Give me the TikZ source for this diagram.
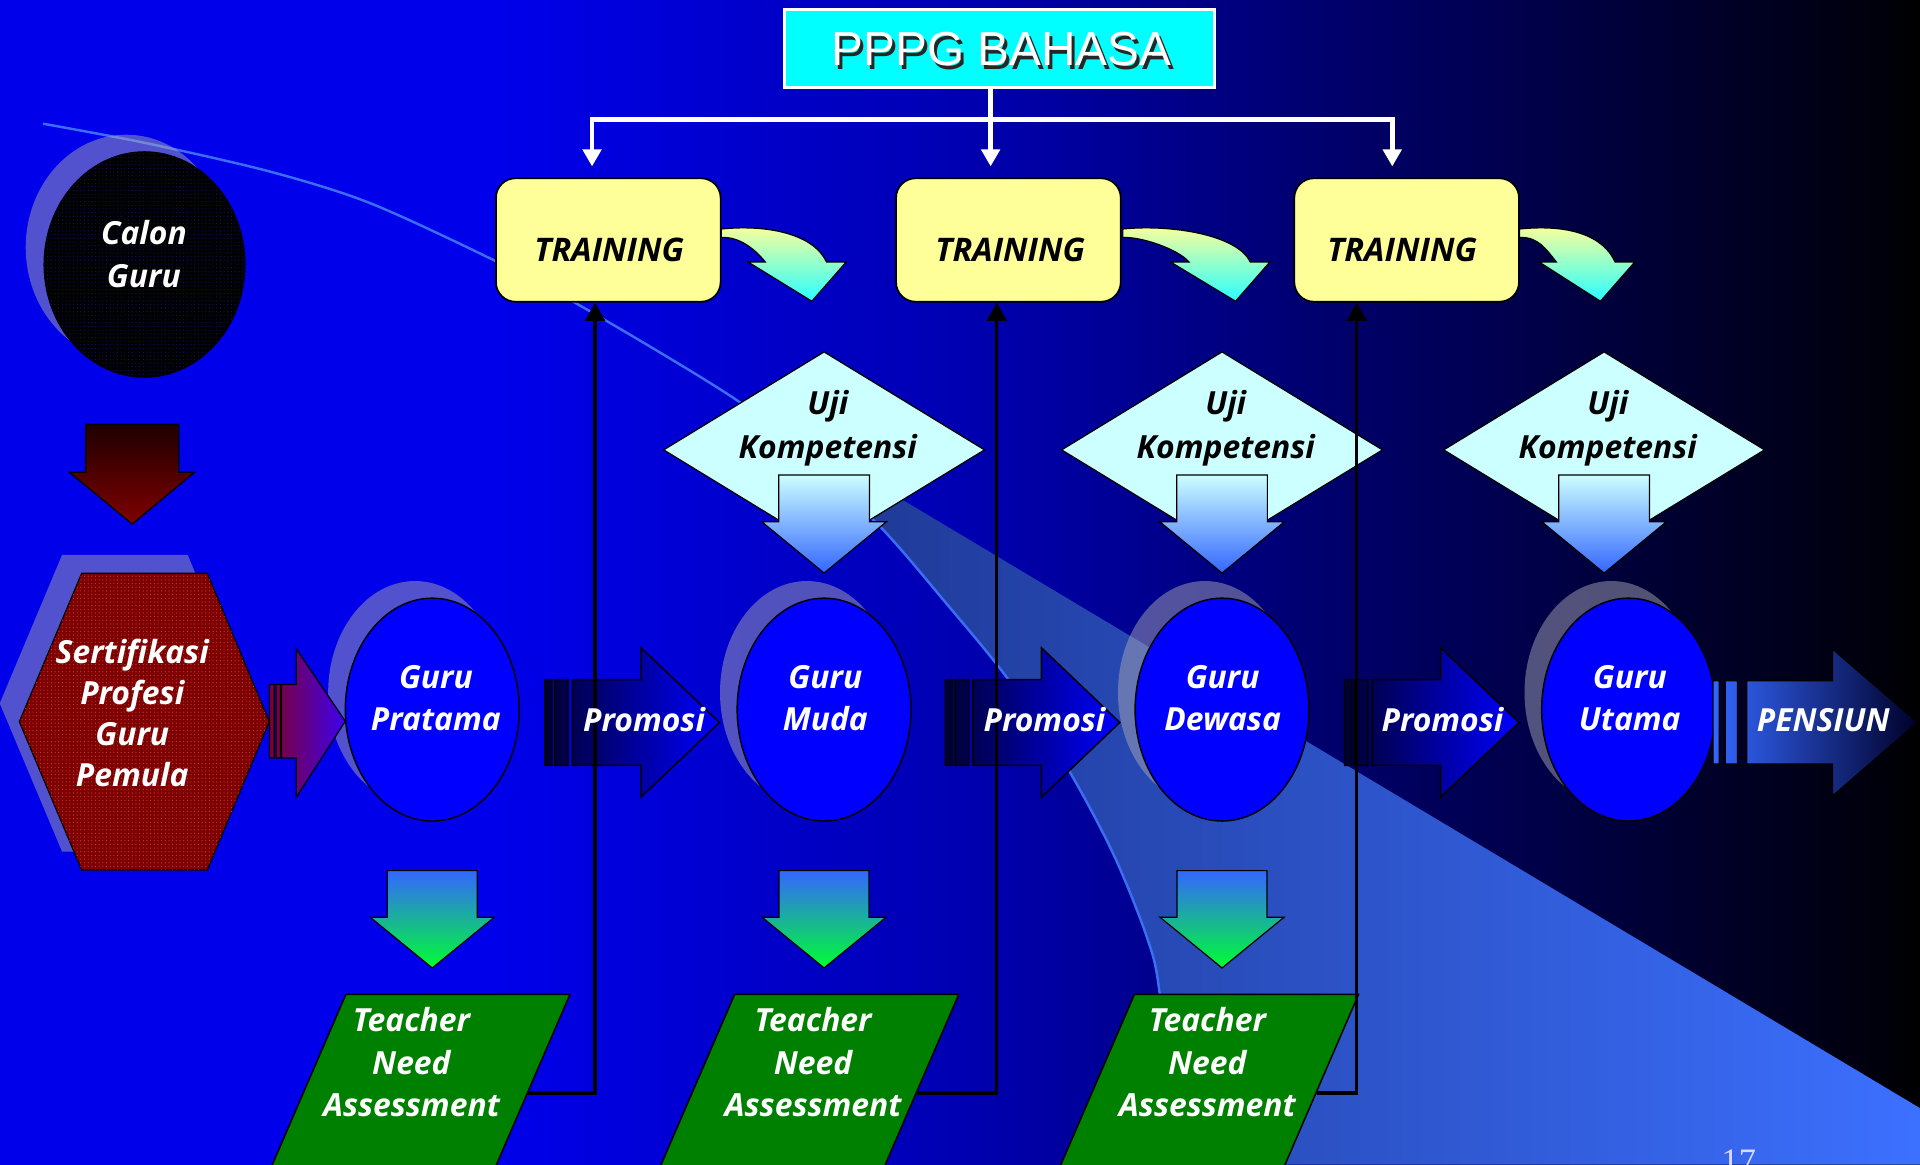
\documentclass[tikz,border=0pt]{standalone}
\usepackage{fontspec}
\setmainfont{Open Sans}
\newfontfamily\arialf{Liberation Sans}
\newfontfamily\timesf{Liberation Serif}
\usetikzlibrary{shapes.geometric,arrows.meta,calc,patterns}
\definecolor{bgA}{RGB}{0,0,235}
\definecolor{bgB}{RGB}{0,0,178}
\definecolor{bgC}{RGB}{0,0,105}
\definecolor{bgD}{RGB}{0,0,52}
\definecolor{bgE}{RGB}{0,0,10}
\definecolor{wedgeA}{RGB}{28,52,140}
\definecolor{wedgeB}{RGB}{60,112,255}
\definecolor{curveline}{RGB}{60,110,245}
\definecolor{trainfill}{RGB}{255,255,153}
\definecolor{ujifill}{RGB}{204,255,255}
\definecolor{gurublue}{RGB}{0,0,255}
\definecolor{tnagreen}{RGB}{0,128,0}
\definecolor{hexred}{RGB}{128,0,0}
\definecolor{hexdot}{RGB}{175,70,70}
\definecolor{caldot}{RGB}{20,20,110}
\definecolor{shadowgray}{RGB}{165,165,180}
\definecolor{cyanbox}{RGB}{0,255,255}
\definecolor{arrowblue}{RGB}{51,102,255}
\definecolor{arrowgreen}{RGB}{0,255,51}
\definecolor{arrowteal}{RGB}{38,200,200}
\definecolor{promoL}{RGB}{0,0,50}
\definecolor{promoR}{RGB}{0,0,255}
\definecolor{pensL}{RGB}{51,102,255}
\definecolor{pensR}{RGB}{0,0,40}
\definecolor{purpL}{RGB}{128,0,48}
\definecolor{purpR}{RGB}{60,0,240}
\definecolor{redtop}{RGB}{30,0,0}
\definecolor{redbot}{RGB}{128,0,0}
\definecolor{curvtop}{RGB}{255,255,153}
\definecolor{curvbot}{RGB}{40,255,255}

\newcommand\mycurvearrow[6]{%
  \path[draw=black, line width=1pt, top color=curvtop, bottom color=curvbot]
    (#1,187) .. controls (#1+40,183) and (#4-10,192) .. (#4,214)
    -- (#5,214) -- (#6,246) -- (#2,214) -- (#3,214)
    .. controls (#3-8,204) and (#1+15,193) .. (#1,194) -- cycle;}
\newcommand\drawUji[1]{%
  \path[draw=black, line width=1pt, fill=ujifill]
    (#1-131,367.4) -- (#1,287.4) -- (#1+131,367.4) -- (#1,447.4) -- cycle;
  \path[draw=black, line width=1pt, top color=ujifill, bottom color=arrowblue]
    (#1-37,388) -- (#1+37,388) -- (#1+37,426) -- (#1+51,426) -- (#1,468)
    -- (#1-51,426) -- (#1-37,426) -- cycle;}
\newcommand\drawGreenDown[1]{%
  \path[draw=black, line width=1pt, top color=arrowblue, middle color=arrowteal, bottom color=arrowgreen]
    (#1-36.75,711) -- (#1+36.75,711) -- (#1+36.75,749) -- (#1+50.75,749)
    -- (#1,790.5) -- (#1-50.75,749) -- (#1-36.75,749) -- cycle;}
\newcommand\drawPromo[1]{%
  \path[draw=black, line width=1.2pt, left color=promoL, right color=promoR]
    (#1,555) rectangle (#1+6,625) (#1+8,555) rectangle (#1+19,625)
    (#1+22.5,555) -- (#1+78.5,555) -- (#1+78.5,529) -- (#1+142.5,590)
    -- (#1+78.5,651) -- (#1+78.5,625) -- (#1+22.5,625) -- cycle;}
\newcommand\drawTNA[1]{%
  \path[draw=black, line width=1.2pt, fill=tnagreen]
    (#1,812) -- (#1+183,812) -- (#1+101.8,1000) -- (#1-81.2,1000) -- cycle;}

\begin{document}
\begin{tikzpicture}[x=1pt,y=-1pt,
  lbl/.style={font=\fontsize{26}{34.5}\selectfont\bfseries\itshape, text=white, align=center, inner sep=0pt},
  blk/.style={lbl, text=black},
  train/.style={draw=black, line width=1.4pt, fill=trainfill, rounded corners=16pt,
    minimum width=183.5pt, minimum height=100.8pt, inner sep=0pt},
  guru/.style={ellipse, draw=black, line width=1.2pt, fill=gurublue,
    minimum width=142pt, minimum height=182pt, inner sep=0pt},
  shad/.style={fill=shadowgray, opacity=.5},
  wline/.style={draw=white, line width=4pt},
  wtip/.style={-{Triangle[width=15pt,length=14pt]}},
  bline/.style={draw=black, line width=2.7pt},
  btip/.style={-{Triangle[width=16pt,length=15pt]}},
]
\clip (0,0) rectangle (1568,950.6);
\useasboundingbox (0,0) rectangle (1568,950.6);

% background
\fill[bgA] (0,0) rectangle (401,951);
\shade[left color=bgA, right color=bgB] (400,0) rectangle (785,951);
\shade[left color=bgB, right color=bgC] (784,0) rectangle (1101,951);
\shade[left color=bgC, right color=bgD] (1100,0) rectangle (1351,951);
\shade[left color=bgD, right color=bgE] (1350,0) rectangle (1541,951);
\shade[left color=bgE, right color=black] (1540,0) rectangle (1568,951);
\shade[left color=wedgeA, right color=wedgeB] (604,328.6) -- (1568,905) -- (1568,951)
  -- plot[smooth] coordinates {(960,951) (947,811) (936.5,765) (909,697) (871,626) (822,553) (773,493) (718.7,430) (660,377) (604,328.6)} -- cycle;
\draw[curveline, line width=2pt] plot[smooth] coordinates {(35,101) (120,117) (220,140) (300,165) (392,207) (471,248) (602,327) (660,377) (718.7,430) (773,493) (822,553) (871,626) (909,697) (936.5,765) (947,811) (960,951)};

% top box
\node[draw=white, line width=2.5pt, fill=cyanbox, minimum width=351pt, minimum height=64pt, inner sep=0pt] (pppg) at (816.5,39.5) {};
\node[font=\arialf\fontsize{39}{39}\selectfont, text=black!85, inner sep=0pt] (pppgs) at (820.5,43) {PPPG BAHASA};
\node[font=\arialf\fontsize{39}{39}\selectfont, text=white, inner sep=0pt] (pppgt) at (818,40) {PPPG BAHASA};

% training boxes
\node[train] (tr1) at (496.75,196) {};
\node[train] (tr2) at (823.5,196) {};
\node[train] (tr3) at (1148.75,196) {};
\node[blk, font=\fontsize{26.5}{30}\selectfont\bfseries\itshape] (tr1t) at (497.5,204) {TRAINING};
\node[blk, font=\fontsize{26.5}{30}\selectfont\bfseries\itshape] (tr2t) at (825,204) {TRAINING};
\node[blk, font=\fontsize{26.5}{30}\selectfont\bfseries\itshape] (tr3t) at (1145,204) {TRAINING};

% white connectors
\coordinate (jl) at (483.5,97.6);
\coordinate (jm) at (809,97.6);
\coordinate (jr) at (1137,97.6);
\draw[wline] (pppg.south -| jm) -- (jm);
\draw[wline, wtip, shorten >=9pt] (jm) -- (jl) -- (jl |- tr1.north);
\draw[wline, wtip, shorten >=9pt] (jm) -- (jm |- tr2.north);
\draw[wline, wtip, shorten >=9pt] (jm) -- (jr) -- (jr |- tr3.north);

% curved arrows
\mycurvearrow{589}{611}{625}{675}{691}{663}
\mycurvearrow{917}{956}{971}{1021}{1037}{1009}
\mycurvearrow{1241}{1257}{1271}{1319}{1335}{1307}

% Uji Kompetensi
\drawUji{673}
\drawUji{998}
\drawUji{1310}

% Calon Guru
\fill[shad] (103,202) ellipse [x radius=82pt, y radius=92pt];
\node[ellipse, draw=black, line width=1pt, fill=black, postaction={pattern=dots, pattern color=caldot},
  minimum width=164pt, minimum height=184pt, inner sep=0pt] (calon) at (118,216) {};
\path[draw=black, line width=1pt, top color=redtop, bottom color=redbot]
  (70,346.5) -- (146,346.5) -- (146,385.6) -- (159,385.6) -- (108,428) -- (56.5,385.6) -- (70,385.6) -- cycle;

% hexagon
\fill[shad] (50.7,453.2) -- (153.3,453.2) -- (203.9,574.4) -- (153.3,695.5) -- (50.7,695.5) -- (-0.2,574.4) -- cycle;
\path[draw=black, line width=1pt, fill=hexred, postaction={pattern=dots, pattern color=hexdot}]
  (66.7,468.2) -- (169.3,468.2) -- (219.9,589.4) -- (169.3,710.5) -- (66.7,710.5) -- (15.8,589.4) -- cycle;

% guru ellipses
\fill[shad] (339,565.5) ellipse [x radius=71pt, y radius=91pt];
\fill[shad] (659,565.5) ellipse [x radius=71pt, y radius=91pt];
\fill[shad] (984,565.5) ellipse [x radius=71pt, y radius=91pt];
\fill[shad] (1316,565.5) ellipse [x radius=71pt, y radius=91pt];
\node[guru] (g1) at (353,579.5) {};
\node[guru] (g2) at (673,579.5) {};
\node[guru] (g3) at (998,579.5) {};
\node[guru] (g4) at (1330,579.5) {};

% horizontal arrows
\path[draw=black, line width=1pt, left color=purpL, right color=purpR]
  (220,559) rectangle (224,619) (225.5,559) rectangle (229,619)
  (230,559) -- (242,559) -- (242,530) -- (282,589) -- (242,651) -- (242,619) -- (230,619) -- cycle;
\drawPromo{445}
\drawPromo{772}
\drawPromo{1098}
\path[draw=black, line width=1pt, left color=pensL, right color=pensR]
  (1399,556) rectangle (1404,624) (1409,556) rectangle (1419,624)
  (1426.5,556) -- (1496.5,556) -- (1496.5,530) -- (1566,590) -- (1496.5,650) -- (1496.5,624) -- (1426.5,624) -- cycle;

% down arrows and assessments
\drawGreenDown{353}
\drawGreenDown{673}
\drawGreenDown{998}
\drawTNA{282.5}
\drawTNA{600}
\drawTNA{926.5}

% feedback connectors
\coordinate (tna1e) at (430.2,892.7);
\coordinate (tna2e) at (749.2,892.7);
\coordinate (tna3e) at (1075.2,892.7);
\coordinate (up1) at (486,892.7);
\coordinate (up2) at (814,892.7);
\coordinate (up3) at (1108,892.7);
\draw[bline, btip] (tna1e) -- (up1) -- (up1 |- tr1.south);
\draw[bline, btip] (tna2e) -- (up2) -- (up2 |- tr2.south);
\draw[bline, btip] (tna3e) -- (up3) -- (up3 |- tr3.south);

% labels
\node[lbl] (calont) at (117.5,207.5) {Calon\\Guru};
\node[lbl, font=\fontsize{26}{33.4}\selectfont\bfseries\itshape] (sertt) at (108,582) {Sertifikasi\\Profesi\\Guru\\Pemula};
\node[lbl] (g1t) at (356,570) {Guru\\Pratama};
\node[lbl] (g2t) at (674,570) {Guru\\Muda};
\node[lbl] (g3t) at (998.5,570) {Guru\\Dewasa};
\node[lbl] (g4t) at (1331,570) {Guru\\Utama};
\node[lbl] (p1t) at (526,588) {Promosi};
\node[lbl] (p2t) at (853,588) {Promosi};
\node[lbl] (p3t) at (1178,588) {Promosi};
\node[lbl] (pent) at (1489,588) {PENSIUN};
\node[blk, font=\fontsize{26}{36}\selectfont\bfseries\itshape] (u1t) at (676,350) {Uji\\Kompetensi};
\node[blk, font=\fontsize{26}{36}\selectfont\bfseries\itshape] (u2t) at (1001,350) {Uji\\Kompetensi};
\node[blk, font=\fontsize{26}{36}\selectfont\bfseries\itshape] (u3t) at (1313,350) {Uji\\Kompetensi};
\node[lbl] (tna1t) at (336,867.5) {Teacher\\Need\\Assessment};
\node[lbl] (tna2t) at (664,867.5) {Teacher\\Need\\Assessment};
\node[lbl] (tna3t) at (986,867.5) {Teacher\\Need\\Assessment};
\node[font=\timesf\fontsize{28}{28}\selectfont, text=white!85!blue, anchor=north, inner sep=0pt] (pnum) at (1420,939) {17};
\end{tikzpicture}
\end{document}
